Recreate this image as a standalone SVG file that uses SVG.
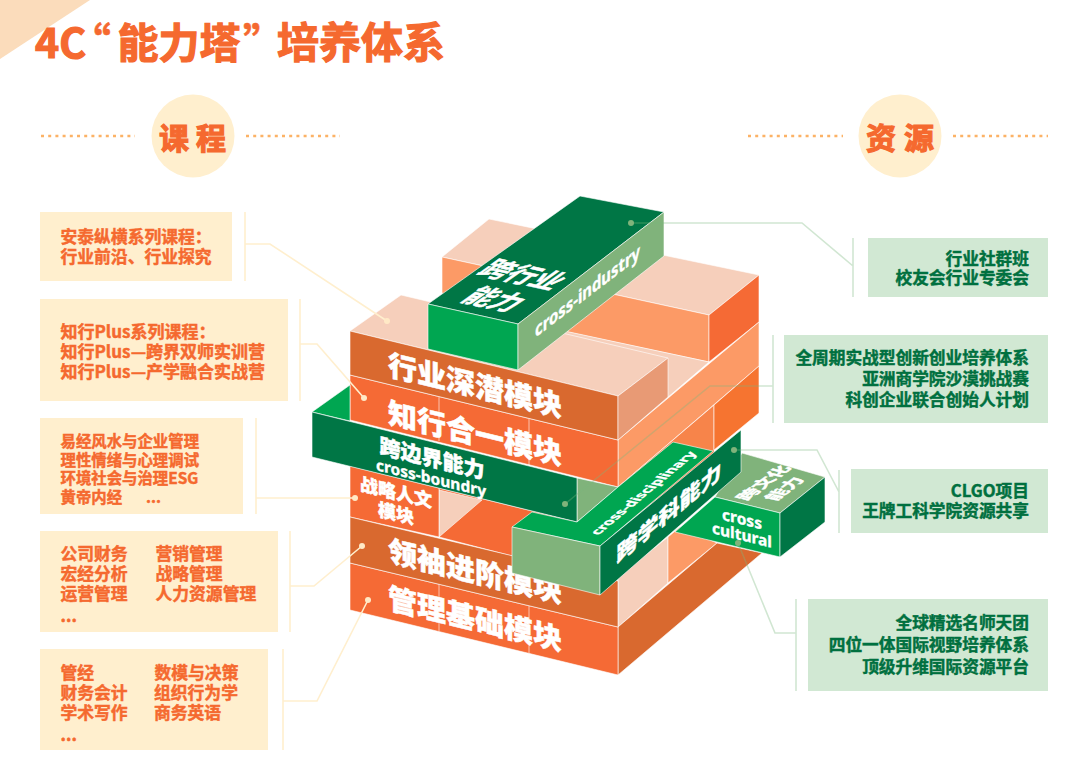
<svg xmlns="http://www.w3.org/2000/svg" width="1080" height="770" viewBox="0 0 1080 770">
<style>
text{font-family:"Noto Sans CJK SC","Noto Sans",sans-serif;font-weight:700}
.lt{font-family:"Noto Sans","Noto Sans CJK SC",sans-serif;font-weight:700;fill:#fff;stroke:#fff;stroke-width:.35}
.w{fill:#fff;font-weight:900;stroke:#fff;stroke-width:.5}
.o{fill:#F5692F;stroke:#F5692F;stroke-width:.45}
.big{stroke-width:1.2}
.g{fill:#00703F;stroke:#00703F;stroke-width:.45;text-anchor:end;font-size:16.7px}
.t1{font-size:16.8px}
.t1b{font-size:17px}
.t2{font-size:15.4px}
.bo{fill:#FFEFCE}
.bg{fill:#D1E8D3}
.f polygon,.f path{stroke:#fff;stroke-opacity:.75;stroke-width:.8;stroke-linejoin:round}
.org{fill:#F56A35}.dk{fill:#D9692F}.pale{fill:#F6CFBB}.lor{fill:#FC9A66}
.gd{fill:#007645}.gb{fill:#00A651}.gs{fill:#80B37B}
.lo{fill:none;stroke:#FFEFCE;stroke-width:1.6}
.lg{fill:none;stroke:#7AB87F;stroke-opacity:.35;stroke-width:1.6}
.do{fill:#FFE9C6}
.dg{fill:#80B37B}
.dash{stroke:#FCB266;stroke-width:2.4;stroke-dasharray:3 4.2;fill:none}
</style>

<polygon points="0,0 90,0 0,59" fill="#FBDCBB"/>
<g id="title">
<text class="o big" y="58" x="35" font-size="41">4C</text>
<text class="o" y="58" x="70" font-size="41">“</text>
<text class="o big" y="58" x="117.500" font-size="41">能力塔</text>
<text class="o" y="58" x="243" font-size="41">”</text>
<text class="o big" y="58" x="277" font-size="42">培养体系</text>
</g>

<g id="header-course">
<line class="dash" x1="41" y1="136" x2="135" y2="136"/>
<line class="dash" x1="246" y1="136" x2="340" y2="136"/>
<circle cx="193" cy="136" r="41.500" fill="#FFEFCE"/>
<text class="o big" x="159" y="149" font-size="30">课</text>
<text class="o big" x="196" y="149" font-size="30">程</text>
</g>
<g id="header-resource">
<line class="dash" x1="748" y1="136" x2="843" y2="136"/>
<line class="dash" x1="953" y1="136" x2="1048" y2="136"/>
<circle cx="900" cy="136" r="41.500" fill="#FFEFCE"/>
<text class="o big" x="866" y="149" font-size="30">资</text>
<text class="o big" x="904" y="149" font-size="30">源</text>
</g>

<g id="box-c1"><rect class="bo" x="40" y="212" width="192" height="69"/>
<text class="o t1"><tspan x="60.500" y="243">安泰纵横系列课程：</tspan><tspan x="60.500" y="263">行业前沿、行业探究</tspan></text></g>
<g id="box-c2"><rect class="bo" x="40" y="299" width="248" height="102"/>
<text class="o t1b"><tspan x="60.500" y="338">知行Plus系列课程：</tspan><tspan x="60.500" y="358">知行Plus—跨界双师实训营</tspan><tspan x="60.500" y="378">知行Plus—产学融合实战营</tspan></text></g>
<g id="box-c3"><rect class="bo" x="40" y="418" width="203" height="96"/>
<text class="o t2"><tspan x="60.500" y="447">易经风水与企业管理</tspan><tspan x="60.500" y="466">理性情绪与心理调试</tspan><tspan x="60.500" y="484">环境社会与治理ESG</tspan><tspan x="60.500" y="503">黄帝内经</tspan><tspan x="146" y="503">...</tspan></text></g>
<g id="box-c4"><rect class="bo" x="40" y="531" width="238" height="101"/>
<text class="o t1"><tspan x="60.500" y="560">公司财务</tspan><tspan x="155.500" y="560">营销管理</tspan><tspan x="60.500" y="580">宏经分析</tspan><tspan x="155.500" y="580">战略管理</tspan><tspan x="60.500" y="600">运营管理</tspan><tspan x="155.500" y="600">人力资源管理</tspan><tspan x="60.500" y="622">...</tspan></text></g>
<g id="box-c5"><rect class="bo" x="40" y="649" width="228" height="101"/>
<text class="o t1"><tspan x="60.500" y="679">管经</tspan><tspan x="154.500" y="679">数模与决策</tspan><tspan x="60.500" y="699">财务会计</tspan><tspan x="154" y="699">组织行为学</tspan><tspan x="60.500" y="719">学术写作</tspan><tspan x="154" y="719">商务英语</tspan><tspan x="60.500" y="741">...</tspan></text></g>

<g id="box-r1"><rect class="bg" x="868" y="238" width="180" height="59"/>
<text class="g"><tspan x="1029" y="265">行业社群班</tspan><tspan x="1029" y="284">校友会行业专委会</tspan></text></g>
<g id="box-r2"><rect class="bg" x="784" y="335" width="264" height="88"/>
<text class="g"><tspan x="1029" y="364">全周期实战型创新创业培养体系</tspan><tspan x="1029" y="385">亚洲商学院沙漠挑战赛</tspan><tspan x="1029" y="406">科创企业联合创始人计划</tspan></text></g>
<g id="box-r3"><rect class="bg" x="851" y="469" width="197" height="64"/>
<text class="g"><tspan x="1029" y="497">CLGO项目</tspan><tspan x="1029" y="517">王牌工科学院资源共享</tspan></text></g>
<g id="box-r4"><rect class="bg" x="808" y="599" width="240" height="92"/>
<text class="g"><tspan x="1029" y="629">全球精选名师天团</tspan><tspan x="1029" y="651">四位一体国际视野培养体系</tspan><tspan x="1029" y="673">顶级升维国际资源平台</tspan></text></g>

<g id="tower-back" class="f">
<polygon class="pale" points="489,219 759,275 709,315 442,257"/>
<polygon class="lor" points="442,257 709,315 709,362 520,322 442,293"/>
<polygon class="org" points="709,315 759,275 759,322 709,362"/>
<polygon class="pale" points="560,330 709,362 618,440 500,400"/>
<polygon class="lor" points="618,440 759,322 759,366 618,487"/>
<polygon points="618,487 714,405 714,455 618,530" fill="#F7844A"/>
<polygon points="714,405 759,366 759,413 714,450" fill="#F67430"/>
<polygon class="pale" points="618,577 668,537 668,583 618,627"/>
<polygon class="lor" points="668,537 680,527 717,543 668,583"/>
<polygon class="dk" points="618,627 717,543 762,553 618,675"/>
</g>

<g id="block-humanities" class="f">
<polygon class="org" points="439,488 577,522 512,556 439,537"/>
<polygon class="pale" points="439,490 482,500 439,537"/>
<polygon class="org" points="350,466 439,488 439,537 350,517"/>
<text class="w" transform="matrix(1,.2425,0,1,396,492)" text-anchor="middle" font-size="18" y="7">战略人文</text>
<text class="w" transform="matrix(1,.2425,0,1,396,513)" text-anchor="middle" font-size="18" y="7">模块</text>
</g>
<g id="block-management" class="f">
<polygon class="org" points="350,563 618,627 618,675 350,610"/>
<path d="M439,584V631M529,606V653" fill="none"/>
<text class="w" transform="matrix(1,.2425,0,1,475,618.500)" text-anchor="middle" font-size="29" y="11">管理基础模块</text>
</g>
<g id="block-leadership" class="f">
<polygon class="dk" points="350,517 618,581 618,627 350,563"/>
<text class="w" transform="matrix(1,.2425,0,1,475,571)" text-anchor="middle" font-size="29" y="11">领袖进阶模块</text>
</g>

<g id="block-practice" class="f">
<polygon class="org" points="350,375 618,440 618,487 350,420"/>
<path d="M439,397V441M529,419V465" fill="none"/>
<text class="w" transform="matrix(1,.2425,0,1,475,433)" text-anchor="middle" font-size="29" y="11">知行合一模块</text>
</g>
<g id="block-industry" class="f">
<polygon class="pale" points="401,295 668,358 618,396 350,331"/>
<polygon class="dk" points="350,331 618,396 618,440 350,375"/>
<polygon points="618,396 668,358 668,397 618,440" fill="#E89A75"/>
<text class="w" transform="matrix(1,.2425,0,1,475,385)" text-anchor="middle" font-size="29" y="11">行业深潜模块</text>
</g>

<g id="beam-boundary" class="f">
<polygon class="gb" points="312,412 350,385 350,421"/>
<polygon class="gs" points="577,478 618,487 577,522"/>
<polygon class="gd" points="312,412 577,478 577,522 312,457"/>
<text class="w" transform="matrix(1,.2425,0,1,432,458)" text-anchor="middle" font-size="21" y="8">跨边界能力</text>
<text class="lt" transform="matrix(1,.2425,0,1,431,478)" text-anchor="middle" font-size="15.500" y="5.500">cross-boundry</text>
</g>

<g id="beam-industry" class="f">
<polygon class="gd" points="428,304 580,196 664,212 518,324"/>
<polygon class="gb" points="428,304 518,324 518,370 428,349"/>
<polygon class="gs" points="518,324 664,212 664,256 518,370"/>
<g class="w" font-size="25" text-anchor="middle">
<text transform="matrix(1,.222,-1.06,.753,523,275)" y="9">跨行业</text>
<text transform="matrix(1,.222,-1.06,.753,494.500,299.500)" y="9">能力</text>
</g>
<text class="lt" transform="matrix(1,-.767,0,1,587.500,291)" text-anchor="middle" font-size="19" y="6.500" textLength="105" lengthAdjust="spacingAndGlyphs">cross-industry</text>
</g>

<g id="block-cultural" class="f">
<polygon class="gs" points="742,453 825,477 780,513 715,497"/>
<polygon class="gb" points="715,497 780,513 780,557 675,532"/>
<polygon class="gd" points="780,513 825,477 825,522 780,557"/>
<g class="w" font-size="15" text-anchor="middle">
<text transform="matrix(1,-.75,1.1,.25,764,483)" y="5">跨文化</text>
<text transform="matrix(1,-.75,1.1,.25,785,489)" y="5">能力</text>
</g>
<text class="lt" transform="matrix(1,.2425,0,1,742,519)" text-anchor="middle" font-size="15.500" y="5.500">cross</text>
<text class="lt" transform="matrix(1,.2425,0,1,742,535)" text-anchor="middle" font-size="15.500" y="5.500">cultural</text>
</g>

<g id="beam-discipline" class="f">
<polygon class="gb" points="512,527 532,512 577,522 618,487 673,442 713,451 600,546"/>
<polygon class="gs" points="512,527 600,546 600,595 512,573"/>
<polygon class="gd" points="600,546 741,430 741,472 600,595"/>
<text class="w" transform="matrix(1,-.83,0,1,669,513)" text-anchor="middle" font-size="21" y="7">跨学科能力</text>
<text class="lt" transform="matrix(1,-.83,1,.22,643,493)" text-anchor="middle" font-size="13.500" y="5" textLength="99" lengthAdjust="spacingAndGlyphs">cross-disciplinary</text>
</g>

<g id="connectors">
<path class="lo" d="M245,212V281M245,244H270L387,321"/>
<path class="lo" d="M300,299V401M300,344H317L364,398"/>
<path class="lo" d="M256,418V514M256,498H355"/>
<path class="lo" d="M290,531V632M290,586H314L362,546"/>
<path class="lo" d="M283,649V750M283,701H317L368,600"/>
<circle class="do" cx="387" cy="321" r="3"/><circle class="do" cx="364" cy="398" r="3"/><circle class="do" cx="355" cy="498" r="3"/><circle class="do" cx="362" cy="546" r="3"/><circle class="do" cx="368" cy="600" r="3"/>
<path class="lg" d="M853,238V297M631,223H802L853,266"/>
<path class="lg" d="M773,335V423M565,504L710,386H773"/>
<path class="lg" d="M839,470V533M734,450H817L839,492"/>
<path class="lg" d="M796,599V691M738,543L775,633H796"/>
<circle class="dg" cx="631" cy="223" r="3"/><circle class="dg" cx="565" cy="504" r="3"/><circle class="dg" cx="734" cy="450" r="3"/><circle class="dg" cx="738" cy="543" r="3"/>
</g>
</svg>
